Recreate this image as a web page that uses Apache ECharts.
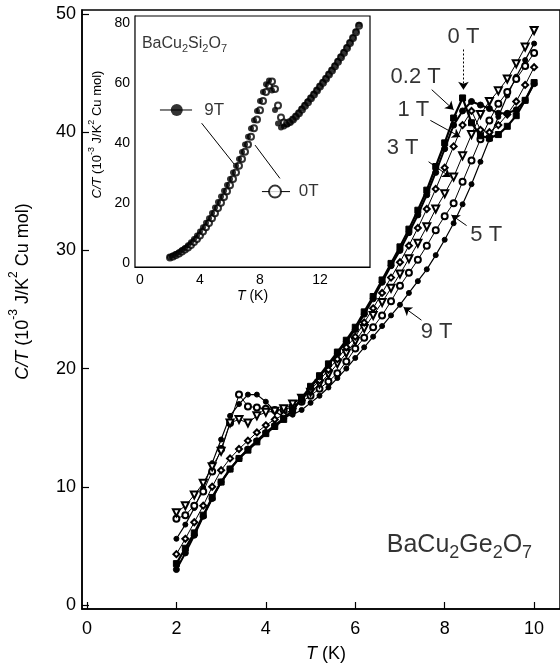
<!DOCTYPE html>
<html>
<head>
<meta charset="utf-8">
<script src="https://cdn.jsdelivr.net/npm/echarts@6/dist/echarts.min.js"></script>
<style>
html, body { margin: 0; padding: 0; background: #fff; }
#chart { width: 560px; height: 670px; }
</style>
</head>
<body>
<div id="chart"></div>
<script>
// main panel: BaCu2Ge2O7, C/T (10^-3 J/K^2 Cu mol) vs T (K)
var T_MAIN = [2.0, 2.2, 2.4, 2.6, 2.8, 3.0, 3.2, 3.4, 3.6, 3.8, 4.0, 4.2, 4.4, 4.6, 4.8, 5.0, 5.2, 5.4, 5.6, 5.8,
  6.0, 6.2, 6.4, 6.6, 6.8, 7.0, 7.2, 7.4, 7.6, 7.8, 8.0, 8.2, 8.4, 8.6, 8.8, 9.0, 9.2, 9.4, 9.6, 9.8, 10.0]
var C_0T = [3.5, 4.8, 6.1, 7.6, 9.1, 10.4, 11.5, 12.4, 13.1, 13.8, 14.5, 15.1, 15.7, 16.5, 17.5, 18.5, 19.4, 20.4, 21.4, 22.4,
  23.5, 24.8, 26.1, 27.5, 28.9, 30.3, 31.8, 33.4, 35.1, 37.1, 39.1, 41.2, 42.9, 40.8, 39.7, 39.5, 39.8, 40.5, 41.4, 42.7, 44.2]
var C_02T = [3.0, 4.4, 5.9, 7.5, 9.0, 10.4, 11.5, 12.4, 13.2, 13.9, 14.6, 15.2, 15.8, 16.5, 17.4, 18.4, 19.3, 20.3, 21.3, 22.3,
  23.3, 24.6, 25.9, 27.3, 28.7, 30.0, 31.5, 33.0, 34.7, 36.6, 38.6, 40.6, 41.8, 42.6, 42.3, 42.0, 41.6, 41.6, 41.9, 42.7, 44.1]
var C_1T = [4.3, 5.6, 7.0, 8.4, 10.0, 11.4, 12.4, 13.2, 13.9, 14.6, 15.2, 15.7, 16.1, 16.6, 17.3, 18.2, 19.0, 19.9, 20.8, 21.8,
  22.7, 23.9, 25.1, 26.4, 27.7, 29.0, 30.4, 31.9, 33.5, 35.2, 37.0, 38.8, 40.6, 41.8, 40.2, 40.0, 40.6, 41.5, 42.6, 44.0, 45.5]
var C_3T = [7.8, 8.4, 9.3, 10.3, 11.7, 13.0, 15.4, 15.7, 15.4, 16.0, 16.3, 16.4, 16.6, 17.0, 17.5, 18.0, 18.7, 19.5, 20.4, 21.3,
  22.3, 23.4, 24.5, 25.6, 26.8, 28.0, 29.3, 30.6, 32.0, 33.5, 34.8, 36.2, 38.0, 39.8, 41.5, 42.6, 43.5, 44.5, 45.8, 47.2, 48.6]
var C_5T = [7.3, 7.6, 8.4, 9.6, 11.3, 13.2, 15.4, 17.8, 16.8, 16.7, 16.6, 16.5, 16.5, 16.8, 17.2, 17.7, 18.3, 18.9, 19.6, 20.6,
  21.7, 22.6, 23.5, 24.5, 25.7, 27.0, 28.1, 29.2, 30.4, 31.7, 32.9, 34.0, 35.8, 37.6, 39.4, 41.0, 42.4, 43.4, 44.5, 45.6, 46.7]
var C_9T = [5.6, 6.8, 8.2, 9.9, 12.0, 14.0, 16.0, 17.0, 17.8, 17.8, 17.2, 16.4, 15.9, 16.1, 16.5, 17.1, 17.7, 18.4, 19.2, 20.0,
  20.9, 21.8, 22.7, 23.6, 24.5, 25.4, 26.4, 27.4, 28.4, 29.6, 30.9, 32.3, 33.9, 35.6, 37.5, 39.4, 41.3, 43.1, 44.7, 46.1, 47.5]

// inset: BaCu2Si2O7
var T_INSET = [2.0, 2.2, 2.4, 2.6, 2.8, 3.0, 3.2, 3.4, 3.6, 3.8, 4.0, 4.2, 4.4, 4.6, 4.8, 5.0, 5.2, 5.4, 5.6, 5.8,
  6.0, 6.2, 6.4, 6.6, 6.8, 7.0, 7.2, 7.4, 7.6, 7.8, 8.0, 8.2, 8.4, 8.6, 8.8, 9.0, 9.2, 9.4, 9.6, 9.8,
  10.0, 10.2, 10.4, 10.6, 10.8, 11.0, 11.2, 11.4, 11.6, 11.8, 12.0, 12.2, 12.4, 12.6, 12.8, 13.0, 13.2, 13.4, 13.6, 13.8,
  14.0, 14.2, 14.4, 14.6]
var SI_9T = [2.0, 2.5, 3.0, 3.6, 4.3, 5.0, 5.9, 6.9, 8.0, 9.2, 10.5, 11.9, 13.4, 14.9, 16.7, 18.5, 20.3, 22.2, 24.1, 26.0,
  28.0, 30.2, 32.4, 34.7, 37.0, 39.5, 42.1, 44.8, 47.6, 50.7, 54.0, 57.0, 59.6, 60.8, 57.5, 51.0, 46.5, 45.2, 45.5, 46.2,
  47.0, 48.0, 49.0, 50.1, 51.5, 52.7, 53.9, 55.1, 56.4, 57.7, 59.0, 60.3, 61.6, 63.0, 64.4, 65.8, 67.3, 68.8, 70.3, 71.9,
  73.5, 75.2, 77.2, 79.4]
var SI_0T = [1.8, 2.2, 2.7, 3.2, 3.8, 4.5, 5.2, 6.0, 7.0, 8.0, 9.2, 10.5, 11.9, 13.3, 14.9, 16.6, 18.3, 20.1, 22.0, 23.9,
  25.9, 28.0, 30.2, 32.4, 34.7, 37.1, 39.5, 42.1, 44.9, 47.8, 50.9, 54.0, 57.0, 59.2, 60.5, 58.0, 52.5, 48.5, 46.8, 46.5,
  47.0, 47.8, 48.8, 49.9, 51.2, 52.4, 53.6, 54.9, 56.2, 57.5, 58.8, 60.1, 61.4, 62.8, 64.2, 65.6, 67.1, 68.6, 70.1, 71.7,
  73.3, 75.0, 76.9, 79.1]

var MAIN_TICKS_X = [0, 2, 4, 6, 8, 10]
var MAIN_TICKS_Y = [0, 10, 20, 30, 40, 50]
var INSET_LABELS_X = [0, 4, 8, 12]
var INSET_TICKS_X = [0, 2, 4, 6, 8, 10, 12, 14]
var INSET_TICKS_Y = [0, 20, 40, 60, 80]

// field labels and their arrows (data coords of the main panel)
var FIELD_NOTES = [
  { text: '0 T', at: [8.42, 48.1], from: [8.42, 47.0], to: [8.42, 43.6], dotted: true },
  { text: '0.2 T', at: [7.35, 44.7], from: [7.71, 43.6], to: [8.2, 41.9] },
  { text: '1 T', at: [7.3, 41.9], from: [7.68, 41.0], to: [8.35, 39.6] },
  { text: '3 T', at: [7.06, 38.7], from: [7.64, 37.5], to: [8.13, 36.2] },
  { text: '5 T', at: [8.93, 31.3], from: [8.49, 32.1], to: [8.15, 33.0] },
  { text: '9 T', at: [7.82, 23.1], from: [7.48, 24.1], to: [7.08, 25.2] }
]

var FONT = "'Liberation Sans', Arial, Helvetica, sans-serif"

function pairs (xs, ys) {
  return xs.map(function (x, i) { return [x, ys[i]] })
}

function mainLine (name, values, symbol, size, width, rotate) {
  return {
    name: name,
    type: 'line',
    xAxisIndex: 0,
    yAxisIndex: 0,
    data: pairs(T_MAIN, values),
    symbol: symbol,
    symbolSize: size,
    symbolRotate: rotate || 0,
    showAllSymbol: true,
    lineStyle: { color: '#000', width: width },
    itemStyle: { color: '#000', borderColor: '#000', borderWidth: 1 },
    z: 3
  }
}

// chemical formula with subscripts, via rich text
function formulaRich (size, subSize, subLine) {
  return {
    n: { fontSize: size, lineHeight: size, fontFamily: FONT, color: '#000', verticalAlign: 'top' },
    s: { fontSize: subSize, lineHeight: subLine, fontFamily: FONT, color: '#000', verticalAlign: 'bottom' }
  }
}
// axis title with italic part and superscripts
function titleRich (size, supSize, rise) {
  return {
    t: { fontSize: size, lineHeight: size, fontFamily: FONT, color: '#000', verticalAlign: 'bottom' },
    i: { fontSize: size, lineHeight: size, fontFamily: FONT, color: '#000', fontStyle: 'italic', verticalAlign: 'bottom' },
    p: { fontSize: supSize, lineHeight: supSize + 2 * rise, fontFamily: FONT, color: '#000', verticalAlign: 'top' }
  }
}
var Y_TITLE = '{i|C/T}{t| (10}{p|-3}{t| J/K}{p|2}{t| Cu mol)}'

var noteData = FIELD_NOTES.map(function (n) {
  return { value: n.at, label: { formatter: n.text } }
})
noteData.push({
  value: [8.33, 4.9],
  label: { formatter: '{n|BaCu}{s|2}{n|Ge}{s|2}{n|O}{s|7}', rich: formulaRich(25, 18, 29) }
})

var arrowLines = FIELD_NOTES.map(function (n) {
  return [
    { coord: n.from, symbol: 'none' },
    { coord: n.to, symbol: 'arrow', lineStyle: { type: n.dotted ? [2, 2] : 'solid' } }
  ]
})

var chart = echarts.init(document.getElementById('chart'), null, { renderer: 'canvas' })

var option = {
  animation: false,
  backgroundColor: '#fff',
  textStyle: { fontFamily: FONT, color: '#000' },
  grid: [
    { left: 82, right: -2, top: 10, bottom: 61, show: true, borderColor: '#000', borderWidth: 1.5 },
    { left: 135, right: 190, top: 16, bottom: 403, show: true, borderColor: '#000', borderWidth: 1.2,
      backgroundColor: '#fff', z: 4 }
  ],
  xAxis: [
    {
      gridIndex: 0, type: 'value', min: -0.111, max: 10.579,
      name: '{i|T}{t| (K)}', nameLocation: 'middle', nameGap: 36,
      nameTextStyle: { fontSize: 18, color: '#000', padding: [0, 0, 0, 10], rich: titleRich(18, 12, 4) },
      axisLine: { onZero: false, lineStyle: { color: '#000', width: 1.5 } },
      axisTick: { inside: true, length: 7, customValues: MAIN_TICKS_X, lineStyle: { color: '#000', width: 1.2 } },
      axisLabel: { customValues: MAIN_TICKS_X, fontSize: 18, color: '#000', margin: 11 },
      splitLine: { show: false }
    },
    {
      gridIndex: 1, type: 'value', min: -0.333, max: 15.333,
      name: '{i|T}{t| (K)}', nameLocation: 'middle', nameGap: 22,
      nameTextStyle: { fontSize: 14, color: '#000', rich: titleRich(14, 9, 3) },
      axisLine: { onZero: false, lineStyle: { color: '#000', width: 1.2 } },
      axisTick: { inside: true, length: 5, customValues: INSET_TICKS_X, lineStyle: { color: '#000' } },
      axisLabel: { customValues: INSET_LABELS_X, fontSize: 14, color: '#000', margin: 6 },
      splitLine: { show: false }
    }
  ],
  yAxis: [
    {
      gridIndex: 0, type: 'value', min: -0.34, max: 50.34,
      name: Y_TITLE, nameLocation: 'middle', nameGap: 50,
      nameTextStyle: { fontSize: 18, color: '#000', padding: [0, 0, 0, 36], rich: titleRich(18, 12, 6) },
      axisLine: { onZero: false, lineStyle: { color: '#000', width: 1.5 } },
      axisTick: { inside: true, length: 7, customValues: MAIN_TICKS_Y, lineStyle: { color: '#000', width: 1.2 } },
      axisLabel: { customValues: MAIN_TICKS_Y, fontSize: 18, color: '#000', margin: 6 },
      splitLine: { show: false }
    },
    {
      gridIndex: 1, type: 'value', min: -1.333, max: 82.333,
      name: Y_TITLE, nameLocation: 'middle', nameGap: 31,
      nameTextStyle: { fontSize: 13, color: '#000', padding: [0, 0, 0, 14], rich: titleRich(13, 9, 4) },
      axisLine: { onZero: false, lineStyle: { color: '#000', width: 1.2 } },
      axisTick: { inside: true, length: 5, customValues: INSET_TICKS_Y, lineStyle: { color: '#000' } },
      axisLabel: { customValues: INSET_TICKS_Y, fontSize: 14, color: '#000', margin: 5 },
      splitLine: { show: false }
    }
  ],
  series: [
    mainLine('9 T', C_9T, 'circle', 5, 1.2),
    mainLine('5 T', C_5T, 'emptyCircle', 6, 1),
    mainLine('3 T', C_3T, 'emptyTriangle', 7, 1, 180),
    mainLine('1 T', C_1T, 'emptyDiamond', 6, 1),
    mainLine('0.2 T', C_02T, 'circle', 6, 2),
    mainLine('0 T', C_0T, 'rect', 6, 2.2),
    {
      name: 'notes',
      type: 'scatter',
      xAxisIndex: 0,
      yAxisIndex: 0,
      symbolSize: 0,
      data: noteData,
      label: { show: true, position: 'inside', fontSize: 22, color: '#000', fontFamily: FONT },
      markLine: {
        silent: true,
        symbolSize: 8,
        label: { show: false },
        lineStyle: { color: '#000', width: 1 },
        data: arrowLines
      },
      z: 5
    },
    // inset
    {
      name: 'Si 0T', type: 'scatter', xAxisIndex: 1, yAxisIndex: 1,
      data: pairs(T_INSET, SI_0T), symbol: 'emptyCircle', symbolSize: 6,
      itemStyle: { color: '#000', borderColor: '#000', borderWidth: 0.8 }, z: 6
    },
    {
      name: 'Si 9T', type: 'scatter', xAxisIndex: 1, yAxisIndex: 1,
      data: pairs(T_INSET, SI_9T), symbol: 'circle', symbolSize: 6,
      itemStyle: { color: '#000' }, z: 6
    },
    {
      name: 'inset legend', type: 'line', xAxisIndex: 1, yAxisIndex: 1,
      symbol: 'none', lineStyle: { color: '#000', width: 1 }, z: 7,
      data: [[1.33, 51], [3.47, 51], null, [8.13, 23.8], [10.0, 23.8], null,
        [4.11, 46.6], [6.27, 33.0], null, [9.33, 28.2], [7.67, 39.3]],
      connectNulls: false
    },
    {
      name: 'inset legend marks', type: 'scatter', xAxisIndex: 1, yAxisIndex: 1, z: 8,
      data: [
        { value: [2.45, 51], symbol: 'circle', symbolSize: 12, itemStyle: { color: '#000' } },
        { value: [9.0, 23.8], symbol: 'emptyCircle', symbolSize: 12,
          itemStyle: { color: '#000', borderColor: '#000', borderWidth: 1 } },
        { value: [4.95, 51], symbolSize: 0, label: { show: true, formatter: '9T', fontSize: 17 } },
        { value: [11.25, 23.8], symbolSize: 0, label: { show: true, formatter: '0T', fontSize: 17 } },
        { value: [0.13, 72.7], symbolSize: 0,
          label: { show: true, position: 'right', distance: 0, formatter: '{n|BaCu}{s|2}{n|Si}{s|2}{n|O}{s|7}',
            rich: formulaRich(16, 11, 19) } }
      ],
      label: { position: 'inside', color: '#000', fontFamily: FONT }
    }
  ]
}

chart.setOption(option)
</script>
</body>
</html>
